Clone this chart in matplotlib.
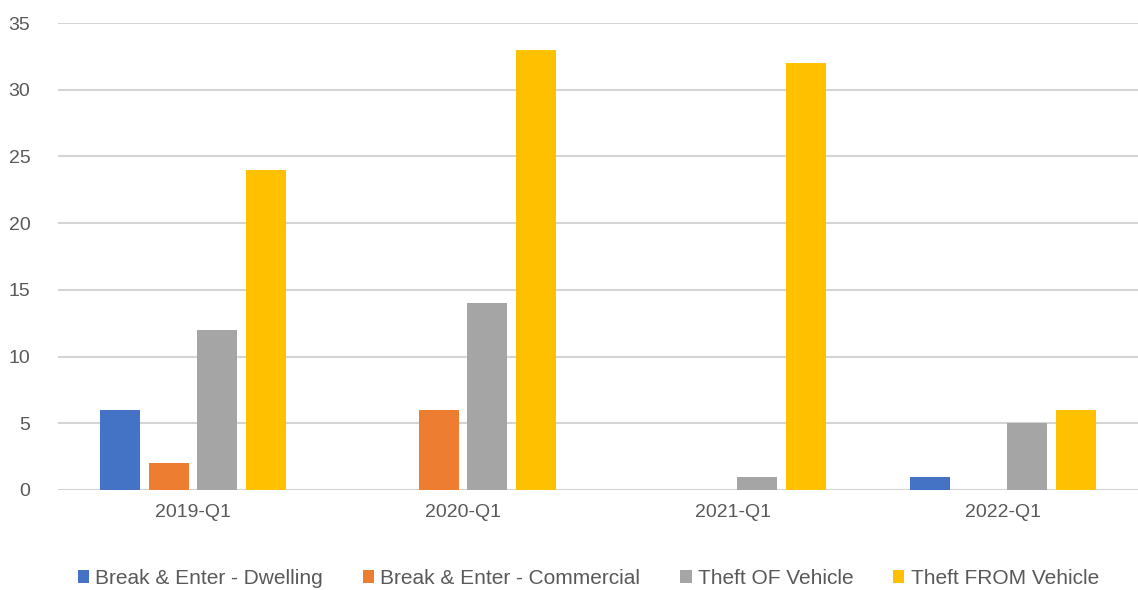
import matplotlib
matplotlib.use("Agg")
import matplotlib.pyplot as plt
import numpy as np

quarters = ["2019-Q1", "2020-Q1", "2021-Q1", "2022-Q1"]
series = ["Break & Enter - Dwelling", "Break & Enter - Commercial", "Theft OF Vehicle", "Theft FROM Vehicle"]
dwelling = [6, 0, 0, 1]
commercial = [2, 6, 0, 0]
theft_of = [12, 14, 1, 5]
theft_from = [24, 33, 32, 6]
colors = ["#4472C4", "#ED7D31", "#A5A5A5", "#FFC000"]

plt.rcParams["font.family"] = ["Liberation Sans", "DejaVu Sans"]
text_color = "#595959"

fig = plt.figure(figsize=(11.38, 5.9), dpi=100)
ax = fig.add_axes([0.051, 0.1695, 0.949, 0.7915])

x = np.arange(len(quarters))
width = 0.148
pitch = 0.181
for i, (name, vals) in enumerate(zip(series, [dwelling, commercial, theft_of, theft_from])):
    ax.bar(x + (i - 1.5) * pitch, vals, width, color=colors[i], label=name, zorder=3)

ax.set_xlim(-0.5, len(quarters) - 0.5)
ax.set_ylim(0, 35)
ax.set_yticks(range(0, 36, 5))
ax.set_xticks(x)
ax.set_xticklabels(quarters)
ax.grid(axis="y", color="#D4D4D4", linewidth=1.5, zorder=0)
for s in ax.spines.values():
    s.set_visible(False)
ax.tick_params(length=0, labelsize=14, colors=text_color, pad=10)
ax.tick_params(axis="y", pad=20)

leg = fig.legend(loc="center", bbox_to_anchor=(0.517, 0.02), ncol=4, frameon=False,
                 fontsize=15, handlelength=0.55, handleheight=0.55, handletextpad=0.3,
                 columnspacing=1.9)
for t in leg.get_texts():
    t.set_color(text_color)

fig.savefig("out.png", dpi=100)
